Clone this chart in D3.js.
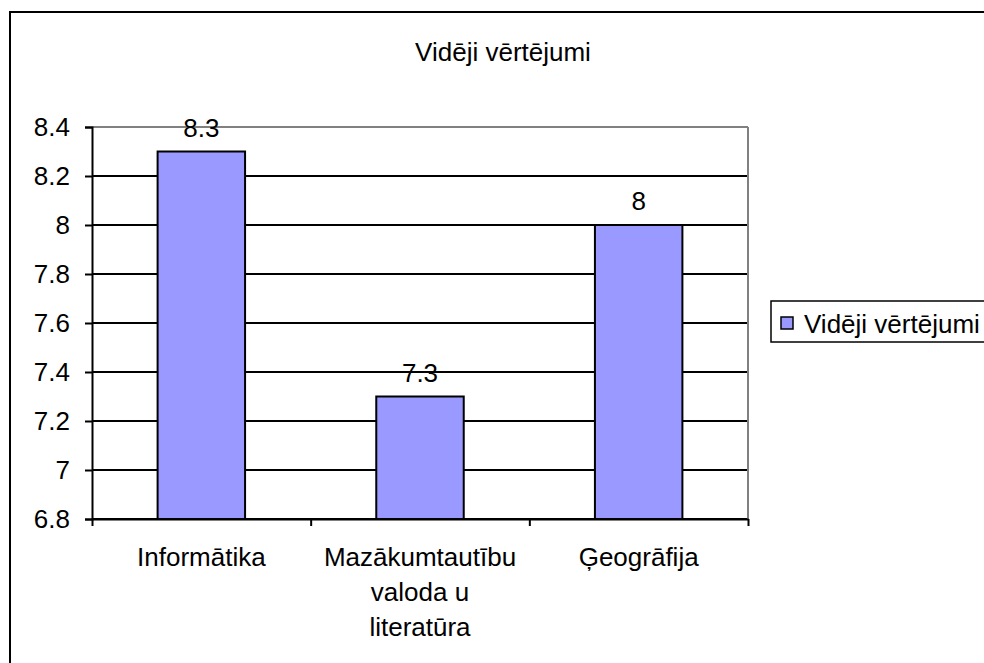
<!DOCTYPE html>
<html>
<head>
<meta charset="utf-8">
<script src="https://cdn.jsdelivr.net/npm/d3@7"></script>
<style>
  html, body { margin: 0; padding: 0; background: #fff; }
  svg { display: block; font-family: "Liberation Sans", Arial, sans-serif; }
</style>
</head>
<body>
<svg id="chart" width="984" height="663"></svg>
<script>
(function (d3) {
    // chart data
    var title = "Vidēji vērtējumi";
    var seriesName = "Vidēji vērtējumi";
    var categories = ["Informātika", "Mazākumtautību valoda u literatūra", "Ģeogrāfija"];
    var categoryLines = [["Informātika"], ["Mazākumtautību", "valoda u", "literatūra"], ["Ģeogrāfija"]];
    var values = [8.3, 7.3, 8.0];
    var valueLabels = ["8.3", "7.3", "8"];
    var yTicks = [6.8, 7.0, 7.2, 7.4, 7.6, 7.8, 8.0, 8.2, 8.4];
    var yTickLabels = ["6.8", "7", "7.2", "7.4", "7.6", "7.8", "8", "8.2", "8.4"];

    var fontSize = 26;
    var barColor = "#9999ff";
    var plot = { left: 92, right: 748, top: 127, bottom: 519 };

    var svg = d3.select("#chart");

    // outer frame (cropped on the right and bottom)
    svg.append("rect")
        .attr("x", 10).attr("y", 12)
        .attr("width", 1000).attr("height", 700)
        .attr("fill", "#fff")
        .attr("stroke", "#000")
        .attr("stroke-width", 2);

    svg.append("text")
        .attr("x", 503).attr("y", 61)
        .attr("text-anchor", "middle")
        .attr("font-size", fontSize)
        .text(title);

    var y = d3.scaleLinear()
        .domain([6.8, 8.4])
        .range([plot.bottom, plot.top]);

    var x = d3.scaleBand()
        .domain(categories)
        .range([plot.left, plot.right])
        .paddingInner(0.6)
        .paddingOuter(0.3);

    var xEdge = d3.scaleLinear()
        .domain([0, categories.length])
        .range([plot.left, plot.right]);

    // gridlines
    svg.append("g")
        .selectAll("line")
        .data(yTicks)
        .join("line")
            .attr("x1", plot.left).attr("x2", plot.right)
            .attr("y1", function (d) { return y(d); })
            .attr("y2", function (d) { return y(d); })
            .attr("stroke", function (d, i) { return i === yTicks.length - 1 ? "#808080" : "#000"; })
            .attr("stroke-width", 2);

    // right border of plot area
    svg.append("line")
        .attr("x1", plot.right).attr("x2", plot.right)
        .attr("y1", plot.top).attr("y2", plot.bottom)
        .attr("stroke", "#808080")
        .attr("stroke-width", 2);

    // bars
    svg.append("g")
        .selectAll("rect")
        .data(values)
        .join("rect")
            .attr("x", function (d, i) { return x(categories[i]); })
            .attr("y", function (d) { return y(d); })
            .attr("width", x.bandwidth())
            .attr("height", function (d) { return y(6.8) - y(d); })
            .attr("fill", barColor)
            .attr("stroke", "#000")
            .attr("stroke-width", 2);

    // value labels
    svg.append("g")
        .selectAll("text")
        .data(values)
        .join("text")
            .attr("x", function (d, i) { return x(categories[i]) + x.bandwidth() / 2; })
            .attr("y", function (d) { return y(d) - 15; })
            .attr("text-anchor", "middle")
            .attr("font-size", fontSize)
            .text(function (d, i) { return valueLabels[i]; });

    // y axis
    var yAxis = svg.append("g")
        .attr("transform", "translate(" + plot.left + ",0)")
        .call(d3.axisLeft(y)
            .tickValues(yTicks)
            .tickSize(7)
            .tickPadding(15)
            .tickFormat(function (d, i) { return yTickLabels[i]; }));
    yAxis.select(".domain").attr("stroke", "#000").attr("stroke-width", 2);
    yAxis.selectAll(".tick line").attr("stroke", "#000").attr("stroke-width", 2);
    yAxis.selectAll(".tick text")
        .attr("font-size", fontSize)
        .attr("font-family", "Liberation Sans, Arial, sans-serif")
        .attr("fill", "#000");

    // x axis
    var xAxis = svg.append("g")
        .attr("transform", "translate(0," + plot.bottom + ")")
        .call(d3.axisBottom(xEdge)
            .tickValues(d3.range(categories.length + 1))
            .tickSize(7)
            .tickSizeOuter(0)
            .tickFormat(""));
    xAxis.select(".domain").attr("stroke", "#000").attr("stroke-width", 2);
    xAxis.selectAll(".tick line").attr("stroke", "#000").attr("stroke-width", 2);

    // category labels
    var cat = svg.append("g")
        .selectAll("text")
        .data(categoryLines)
        .join("text")
            .attr("text-anchor", "middle")
            .attr("font-size", fontSize)
            .attr("x", function (d, i) { return x(categories[i]) + x.bandwidth() / 2; })
            .attr("y", 566);
    cat.selectAll("tspan")
        .data(function (d) { return d; })
        .join("tspan")
            .attr("x", function () { return d3.select(this.parentNode).attr("x"); })
            .attr("dy", function (d, i) { return i === 0 ? 0 : 35; })
            .text(function (d) { return d; });

    // legend
    var legend = svg.append("g");
    legend.append("rect")
        .attr("x", 771).attr("y", 301)
        .attr("width", 240).attr("height", 41)
        .attr("fill", "#fff")
        .attr("stroke", "#000")
        .attr("stroke-width", 1.5);
    legend.append("rect")
        .attr("x", 781).attr("y", 317)
        .attr("width", 12).attr("height", 12)
        .attr("fill", barColor)
        .attr("stroke", "#000")
        .attr("stroke-width", 1.5);
    legend.append("text")
        .attr("x", 804).attr("y", 333)
        .attr("font-size", fontSize)
        .text(seriesName);
}).call(this, d3);
</script>
</body>
</html>
